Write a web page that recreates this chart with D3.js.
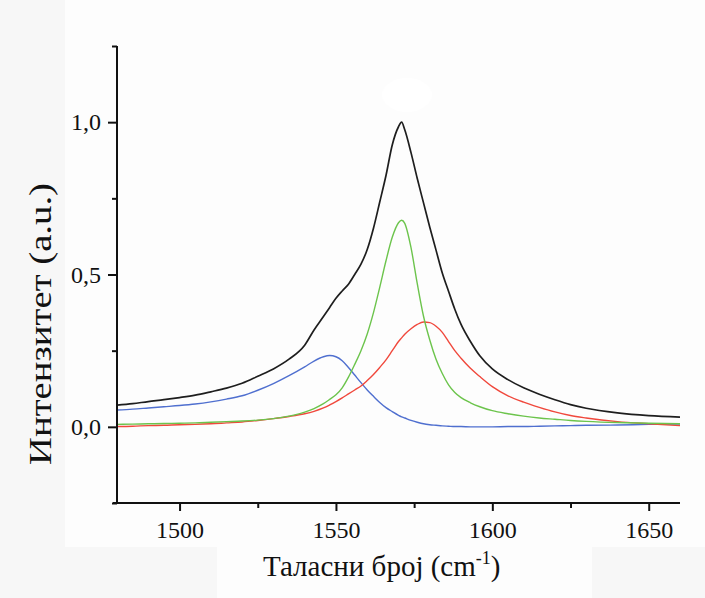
<!DOCTYPE html>
<html>
<head>
<meta charset="utf-8">
<script src="https://cdn.jsdelivr.net/npm/d3@7"></script>
<style>
  html, body { margin: 0; padding: 0; background: #f7f7f7; }
  svg { display: block; }
  svg text { font-family: "Liberation Serif", "Times New Roman", serif; fill: #111; }
</style>
</head>
<body>
<svg id="chart" width="705" height="598"></svg>
<script>
// ---- data ----
const wavenumbers = [1480,1485,1490,1495,1500,1505,1510,1515,1520,1525,1530,1535,1540,1543,1546,1548,1550,1552,1554,1556,1558,1560,1562,1564,1566,1568,1570,1571,1572,1574,1576,1578,1580,1582,1584,1586,1588,1590,1593,1596,1600,1605,1610,1615,1620,1625,1630,1640,1650,1660];
const measured = [0.071,0.076,0.083,0.089,0.096,0.104,0.115,0.127,0.143,0.166,0.190,0.222,0.268,0.318,0.362,0.392,0.422,0.446,0.468,0.500,0.534,0.582,0.652,0.738,0.825,0.925,0.985,1.000,0.975,0.900,0.815,0.735,0.655,0.580,0.505,0.445,0.386,0.336,0.280,0.233,0.190,0.155,0.128,0.107,0.089,0.073,0.061,0.046,0.037,0.032];
const peakBlue = [0.055,0.058,0.062,0.066,0.070,0.075,0.082,0.091,0.102,0.120,0.142,0.168,0.197,0.216,0.230,0.234,0.230,0.217,0.195,0.170,0.145,0.121,0.100,0.080,0.063,0.050,0.038,0.033,0.029,0.021,0.015,0.010,0.007,0.005,0.003,0.002,0.001,0.001,0.000,0.000,0.000,0.001,0.001,0.002,0.003,0.004,0.005,0.006,0.008,0.009];
const peakGreen = [0.008,0.009,0.010,0.011,0.012,0.013,0.015,0.017,0.019,0.022,0.027,0.035,0.048,0.060,0.076,0.090,0.105,0.128,0.163,0.205,0.250,0.305,0.375,0.458,0.545,0.622,0.670,0.678,0.668,0.588,0.470,0.363,0.285,0.222,0.175,0.138,0.113,0.096,0.079,0.066,0.053,0.043,0.035,0.029,0.025,0.021,0.018,0.014,0.012,0.010];
const peakRed = [0.001,0.002,0.004,0.005,0.007,0.008,0.010,0.013,0.016,0.021,0.027,0.034,0.043,0.051,0.062,0.072,0.083,0.095,0.108,0.121,0.134,0.152,0.172,0.195,0.220,0.250,0.280,0.292,0.304,0.322,0.336,0.344,0.342,0.330,0.310,0.280,0.250,0.225,0.192,0.165,0.132,0.102,0.081,0.064,0.049,0.037,0.029,0.017,0.010,0.004];
const xTicks = [1500,1550,1600,1650];
const xMinorTicks = [1525,1575,1625];
const yTicks = [0,0.5,1.0];
const yTickLabels = ["0,0","0,5","1,0"];
const yMinorTicks = [-0.25,0.25,0.75,1.25];
const xTitle = "Таласни број (cm";
const xTitleSup = "-1";
const yTitle = "Интензитет (a.u.)";

// ---- drawing ----
const FONT = "'Liberation Serif', 'Times New Roman', serif";
const svg = d3.select("#chart");
const x = d3.scaleLinear().domain([1480,1660]).range([117,680]);
const y = d3.scaleLinear().domain([-0.25,1.25]).range([503,46]);

// background patches
svg.append("rect").attr("x",65).attr("y",0).attr("width",640).attr("height",547).attr("fill","#fdfdfd");
svg.append("rect").attr("x",217).attr("y",547).attr("width",375).attr("height",51).attr("fill","#fdfdfd");
svg.append("ellipse").attr("cx",407).attr("cy",95).attr("rx",25).attr("ry",17).attr("fill","#ffffff");

svg.append("clipPath").attr("id","plotclip").append("rect")
  .attr("x",117).attr("y",46).attr("width",563).attr("height",457);

const series = [
  {vals: peakBlue, color: "#4f6fcf", w: 1.4},
  {vals: peakRed, color: "#f0483c", w: 1.4},
  {vals: peakGreen, color: "#6cc44c", w: 1.4},
  {vals: measured, color: "#1e1e1e", w: 1.7}
];
const line = d3.line().curve(d3.curveMonotoneX);
const g = svg.append("g").attr("clip-path","url(#plotclip)");
series.forEach(s => {
  g.append("path")
    .attr("d", line(wavenumbers.map((w,i) => [x(w), y(s.vals[i])])))
    .attr("fill","none").attr("stroke",s.color).attr("stroke-width",s.w)
    .attr("stroke-linejoin","round");
});

// axes
const xAxis = d3.axisBottom(x).tickValues(xTicks).tickSize(8).tickSizeOuter(0).tickPadding(10).tickFormat(d3.format("d"));
const xMinor = d3.axisBottom(x).tickValues(xMinorTicks).tickSize(5).tickSizeOuter(0).tickFormat("");
const yAxis = d3.axisLeft(y).tickValues(yTicks).tickSize(9).tickSizeOuter(0).tickPadding(7).tickFormat((d,i) => yTickLabels[i]);
const yMinor = d3.axisLeft(y).tickValues(yMinorTicks).tickSize(5).tickSizeOuter(0).tickFormat("");

function styleAxis(sel) {
  sel.attr("font-family", null).attr("font-size", null);
  sel.select(".domain").remove();
  sel.selectAll(".tick line").attr("stroke","#111").attr("stroke-width",2);
  sel.selectAll(".tick text")
    .style("font-family", FONT).style("font-size","24px").style("fill","#111");
}
svg.append("g").attr("transform","translate(0,503)").call(xAxis).call(styleAxis);
svg.append("g").attr("transform","translate(0,503)").call(xMinor).call(styleAxis);
svg.append("g").attr("transform","translate(117,0)").call(yAxis).call(styleAxis);
svg.append("g").attr("transform","translate(117,0)").call(yMinor).call(styleAxis);

// axis lines
svg.append("line").attr("x1",113).attr("x2",680).attr("y1",503).attr("y2",503).attr("stroke","#111").attr("stroke-width",2);
svg.append("line").attr("x1",117).attr("x2",117).attr("y1",46).attr("y2",504).attr("stroke","#111").attr("stroke-width",2);

// titles
const xt = svg.append("text").attr("x",263).attr("y",576).style("font-family",FONT).style("font-size","29px");
xt.append("tspan").text(xTitle);
xt.append("tspan").style("font-size","18px").attr("dy",-12).text(xTitleSup);
xt.append("tspan").attr("dy",12).text(")");

svg.append("text")
  .attr("transform","translate(51,324) rotate(-90)")
  .attr("text-anchor","middle")
  .attr("textLength",282).attr("lengthAdjust","spacingAndGlyphs")
  .style("font-family",FONT).style("font-size","32px")
  .text(yTitle);
</script>
</body>
</html>
